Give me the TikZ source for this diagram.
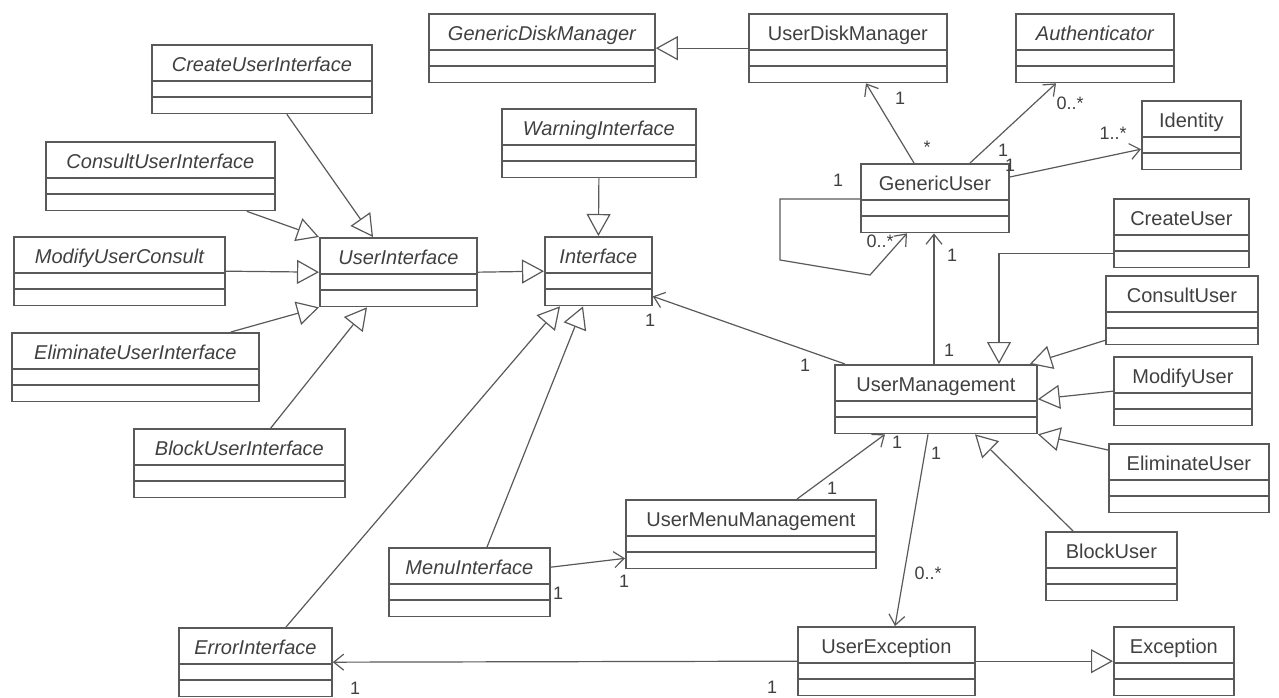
\documentclass[tikz,border=0pt]{standalone}
\usepackage{fontspec}
\setmainfont{Liberation Sans}
\usetikzlibrary{shapes.multipart,arrows.meta}

\tikzset{
  umlclass/.style={rectangle split, rectangle split parts=3, draw=black!65, line width=0.9pt,
    anchor=north west, inner xsep=3pt, inner ysep=1pt, execute at begin node={\rule[-3pt]{0pt}{15pt}},
    font=\fontsize{10}{12}\selectfont, text=black!75},
  abstractclass/.style={umlclass, font=\fontsize{10}{12}\selectfont\itshape},
  inherit/.style={draw=black!65, line width=0.6pt, -{Triangle[open, fill=white, length=11pt, width=12pt]}},
  assoc/.style={draw=black!65, line width=0.6pt, -{Straight Barb[length=5pt, width=8pt]}},
  mult/.style={font=\fontsize{9}{11}\selectfont, text=black!75, inner sep=0pt}
}

\begin{document}
\begin{tikzpicture}[x=0.5pt, y=-0.5pt]
    \useasboundingbox (0,0) rectangle (1279,697);
    \node[abstractclass, minimum width=113pt] (gdm) at (428,13) {GenericDiskManager};
    \node[umlclass, minimum width=99pt] (udm) at (748,13) {UserDiskManager};
    \node[abstractclass, minimum width=79pt] (auth) at (1015,13) {Authenticator};
    \node[umlclass, minimum width=49.5pt] (ident) at (1141,100) {Identity};
    \node[abstractclass, minimum width=110pt] (cui) at (151,44) {CreateUserInterface};
    \node[abstractclass, minimum width=97pt] (wi) at (501,108) {WarningInterface};
    \node[abstractclass, minimum width=114.5pt] (consui) at (45,141) {ConsultUserInterface};
    \node[umlclass, minimum width=74pt] (gu) at (860,163) {GenericUser};
    \node[umlclass, minimum width=67.5pt] (cu) at (1113,198) {CreateUser};
    \node[abstractclass, minimum width=105.5pt] (mui) at (13,236) {ModifyUserConsult};
    \node[abstractclass, minimum width=78.5pt] (ui) at (319,237) {UserInterface};
    \node[abstractclass, minimum width=53.5pt] (intf) at (544,236) {Interface};
    \node[umlclass, minimum width=76pt] (conu) at (1105,275) {ConsultUser};
    \node[umlclass, minimum width=101pt] (um) at (834,364) {UserManagement};
    \node[umlclass, minimum width=69pt] (modu) at (1113,356) {ModifyUser};
    \node[abstractclass, minimum width=123.5pt] (eui) at (11,332) {EliminateUserInterface};
    \node[umlclass, minimum width=80pt] (elu) at (1108,443) {EliminateUser};
    \node[abstractclass, minimum width=105.5pt] (bui) at (133,428) {BlockUserInterface};
    \node[umlclass, minimum width=125pt] (umm) at (625,499) {UserMenuManagement};
    \node[umlclass, minimum width=65.5pt] (blu) at (1045,531) {BlockUser};
    \node[abstractclass, minimum width=80.5pt] (mi) at (388,547) {MenuInterface};
    \node[abstractclass, minimum width=76.5pt] (ei) at (178,627) {ErrorInterface};
    \node[umlclass, minimum width=88.5pt] (ue) at (797,626) {UserException};
    \node[umlclass, minimum width=60pt] (exc) at (1113,626) {Exception};
    \draw[inherit] (udm.west) -- (gdm.east);
    \draw[inherit] (wi.south) -- (intf.north);
    \draw[inherit] (ui.east) -- (intf.west);
    \draw[inherit] (mui.east) -- (ui.west);
    \draw[inherit] ([xshift=12.5pt]cui.south) -- ([xshift=27pt]ui.north west);
    \draw[inherit] ([xshift=-14.5pt]consui.south east) -- (ui.north west);
    \draw[inherit] ([xshift=-14.5pt]eui.north east) -- (ui.south west);
    \draw[inherit] ([xshift=-37.5pt]bui.north east) -- ([xshift=24pt]ui.south west);
    \draw[inherit] ([xshift=54pt]ei.north west) -- ([xshift=8pt]intf.south west);
    \draw[inherit] ([xshift=49.5pt]mi.north west) -- ([xshift=19.5pt]intf.south west);
    \draw[inherit] (ue.east) -- (exc.west);
    \draw[inherit] ([yshift=-10pt]cu.west) -| ([xshift=82.5pt]um.north west);
    \draw[inherit] ([yshift=2.5pt]conu.south west) -- ([xshift=-4pt]um.north east);
    \draw[inherit] (modu.west) -- (um.east);
    \draw[inherit] ([yshift=-3.5pt]elu.north west) -- (um.south east);
    \draw[inherit] ([xshift=14pt]blu.north west) -- ([xshift=70.5pt]um.south west);
    \draw[assoc] ([xshift=27pt]gu.north west) -- ([xshift=59pt]udm.south west);
    \draw[assoc] ([xshift=55pt]gu.north west) -- ([xshift=20.5pt]auth.south west);
    \draw[assoc] ([yshift=-7pt]gu.north east) -- ([yshift=-7pt]ident.west);
    \draw[assoc] ([yshift=-18pt]gu.north west) -- ++(-40pt,0) -- ++(0,-30.5pt) -- ++(45pt,-7.5pt) -- ([xshift=23.5pt]gu.south west);
    \draw[assoc] ([xshift=50pt]um.north west) -- ([xshift=37pt]gu.south west);
    \draw[assoc] ([xshift=5.5pt]um.north west) -- ([yshift=5pt]intf.south east);
    \draw[assoc] ([xshift=86pt]umm.north west) -- ([xshift=25.5pt]um.south west);
    \draw[assoc] ([xshift=47pt]um.south west) -- ([xshift=49pt]ue.north west);
    \draw[assoc] ([yshift=7.5pt]mi.east) -- ([yshift=5.5pt]umm.south west);
    \draw[assoc] (ue.west) -- (ei.east);
    \node[mult] (m1) at (900,98) {1};
    \node[mult] (m2) at (927,147) {*};
    \node[mult] (m3) at (1070,103) {0..*};
    \node[mult] (m4) at (1003,150) {1};
    \node[mult] (m5) at (1113,133) {1..*};
    \node[mult] (m6) at (1010,165) {1};
    \node[mult] (m7) at (838,180) {1};
    \node[mult] (m8) at (880,241) {0..*};
    \node[mult] (m9) at (952,255) {1};
    \node[mult] (m10) at (949,350) {1};
    \node[mult] (m11) at (805,365) {1};
    \node[mult] (m12) at (650,320) {1};
    \node[mult] (m13) at (897,442) {1};
    \node[mult] (m14) at (832,488) {1};
    \node[mult] (m15) at (936,453) {1};
    \node[mult] (m16) at (928,573) {0..*};
    \node[mult] (m17) at (558,593) {1};
    \node[mult] (m18) at (624,581) {1};
    \node[mult] (m19) at (355,688) {1};
    \node[mult] (m20) at (772,687) {1};
\end{tikzpicture}
\end{document}
